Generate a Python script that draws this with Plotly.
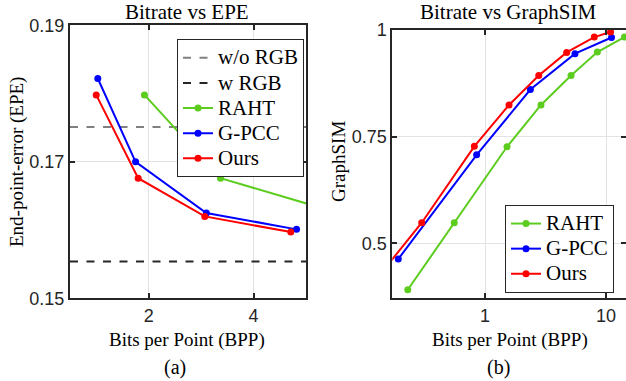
import plotly.graph_objects as go

# ---------------- data ----------------
# (a) Bitrate vs EPE
bpp_raht_a = [1.92, 3.37, 6.2]
epe_raht = [0.1798, 0.1676, 0.1612]
bpp_gpcc_a = [1.03, 1.75, 3.10, 4.82]
epe_gpcc = [0.1822, 0.1700, 0.1625, 0.1601]
bpp_ours_a = [1.00, 1.80, 3.07, 4.71]
epe_ours = [0.1798, 0.1676, 0.1620, 0.1597]
epe_wo_rgb = 0.1751
epe_w_rgb = 0.1554

# (b) Bitrate vs GraphSIM
bpp_raht_b = [0.23, 0.557, 1.52, 2.90, 5.14, 8.48, 14.2]
gs_raht = [0.391, 0.548, 0.726, 0.824, 0.893, 0.948, 0.983]
bpp_gpcc_b = [0.192, 0.853, 2.37, 5.54, 11.1]
gs_gpcc = [0.463, 0.707, 0.860, 0.944, 0.982]
bpp_ours_b = [0.15, 0.30, 0.816, 1.58, 2.78, 4.73, 8.0, 10.9]
gs_ours = [0.442, 0.548, 0.727, 0.824, 0.893, 0.947, 0.983, 0.995]

xticks_a = [2, 4]
yticks_a = [0.15, 0.17, 0.19]
yticklabels_a = ["0.15", "0.17", "0.19"]
xticks_b = [1, 10]
xticklabels_b = ["1", "10"]
yticks_b = [0.5, 0.75, 1.0]
yticklabels_b = ["0.5", "0.75", "1"]

xrange_a = [0.5, 5.0]
yrange_a = [0.15, 0.19]
xrange_b = [-0.766, 1.165]  # log10
yrange_b = [0.371, 1.0]

# ---------------- style ----------------
W, H = 626, 381
GREEN = "#5ccc1f"
BLUE = "#0000ff"
RED = "#ff0000"
AX = "#262626"
SERIF = "Liberation Serif"
SANS = "Liberation Sans"

def px_x(p):
    return p / W

def px_y(p):
    return 1 - p / H

def lg(name):
    return '<span style="font-size:21px">' + name + '</span>'

fig = go.Figure()

lw = 2
ms = 7
DASH = "8px,8.5px"

# left plot
fig.add_trace(go.Scatter(x=xrange_a, y=[epe_wo_rgb] * 2, mode="lines", name=lg("w/o RGB"),
                         line=dict(color="#808080", width=lw, dash=DASH),
                         xaxis="x", yaxis="y", legend="legend"))
fig.add_trace(go.Scatter(x=xrange_a, y=[epe_w_rgb] * 2, mode="lines", name=lg("w RGB"),
                         line=dict(color="#262626", width=lw, dash=DASH),
                         xaxis="x", yaxis="y", legend="legend"))
for xs, ys, nm, c in [(bpp_raht_a, epe_raht, "RAHT", GREEN),
                      (bpp_gpcc_a, epe_gpcc, "G-PCC", BLUE),
                      (bpp_ours_a, epe_ours, "Ours", RED)]:
    fig.add_trace(go.Scatter(x=xs, y=ys, mode="lines+markers", name=lg(nm),
                             line=dict(color=c, width=lw), marker=dict(color=c, size=ms),
                             xaxis="x", yaxis="y", legend="legend"))

# right plot
for xs, ys, nm, c in [(bpp_raht_b, gs_raht, "RAHT", GREEN),
                      (bpp_gpcc_b, gs_gpcc, "G-PCC", BLUE),
                      (bpp_ours_b, gs_ours, "Ours", RED)]:
    fig.add_trace(go.Scatter(x=xs, y=ys, mode="lines+markers", name=lg(nm),
                             line=dict(color=c, width=lw), marker=dict(color=c, size=ms),
                             xaxis="x2", yaxis="y2", legend="legend2"))

axis_common = dict(showline=True, linecolor=AX, linewidth=2, mirror="ticks",
                   ticks="inside", ticklen=5, tickwidth=1.5, tickcolor=AX,
                   showgrid=True, gridcolor="#e3e3e3", gridwidth=1, zeroline=False,
                   tickfont=dict(family=SANS, size=18, color=AX), tickmode="array")

left_x0, left_x1, left_top, bot = 70, 306, 25.3, 298.3
right_x0, right_x1, right_top = 392.3, 626, 29.8

leg_font = dict(family=SERIF, size=17, color="#000000")

fig.update_layout(
    width=W, height=H,
    margin=dict(l=0, r=0, t=0, b=0, autoexpand=False),
    paper_bgcolor="white", plot_bgcolor="white",
    showlegend=True,
    xaxis=dict(domain=[px_x(left_x0), px_x(left_x1)], range=xrange_a,
               tickvals=xticks_a, ticktext=[str(v) for v in xticks_a], anchor="y", **axis_common),
    yaxis=dict(domain=[px_y(bot), px_y(left_top)], range=yrange_a,
               tickvals=yticks_a, ticktext=yticklabels_a, anchor="x", **axis_common),
    xaxis2=dict(domain=[px_x(right_x0), px_x(right_x1)], type="log", range=xrange_b,
                tickvals=xticks_b, ticktext=xticklabels_b, anchor="y2", **axis_common),
    yaxis2=dict(domain=[px_y(bot), px_y(right_top)], range=yrange_b,
                tickvals=yticks_b, ticktext=yticklabels_b, anchor="x2", **axis_common),
    legend=dict(x=px_x(304), y=px_y(39.3), xanchor="right", yanchor="top",
                bgcolor="white", bordercolor=AX, borderwidth=1,
                font=leg_font, itemwidth=30, tracegroupgap=0),
    legend2=dict(x=px_x(614), y=px_y(205), xanchor="right", yanchor="top",
                 bgcolor="white", bordercolor=AX, borderwidth=1,
                 font=leg_font, itemwidth=30, tracegroupgap=0),
)

def ann(text, x, y, size, angle=0):
    fig.add_annotation(text=text, x=px_x(x), y=px_y(y), xref="paper", yref="paper",
                       showarrow=False, textangle=angle, xanchor="center", yanchor="middle",
                       font=dict(family=SERIF, size=size, color="#000000"))

ann("Bitrate vs EPE", 187.5, 12, 21)
ann("Bitrate vs GraphSIM", 508, 12, 21)
ann("End-point-error (EPE)", 17, 162, 19, -90)
ann("GraphSIM", 338, 162, 19, -90)
ann("Bits per Point (BPP)", 187.5, 340, 19)
ann("Bits per Point (BPP)", 509.7, 340, 19)
ann("(a)", 175, 367, 20)
ann("(b)", 498, 367, 20)

fig.write_html("out.html", config={"displayModeBar": False},
               post_script="document.body.style.margin='0px';document.body.style.overflow='hidden';")
